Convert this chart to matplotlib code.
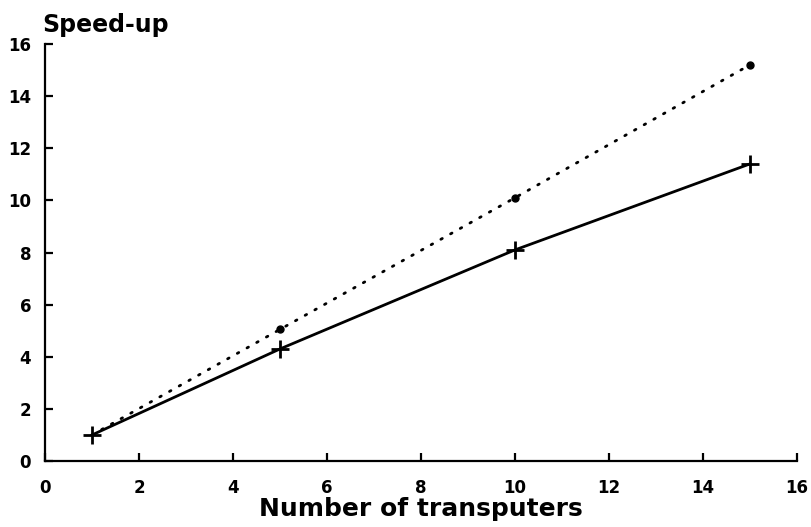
import matplotlib
matplotlib.use('Agg')
import matplotlib.pyplot as plt

plt.rcParams['font.family'] = ['DejaVu Sans']
plt.rcParams['font.weight'] = 'bold'

# data
transputers = [1, 5, 10, 15]
speedup_measured = [1.0, 4.3, 8.1, 11.4]
speedup_ideal = [1.0, 5.05, 10.1, 15.2]
ticks = [0, 2, 4, 6, 8, 10, 12, 14, 16]

fig = plt.figure(figsize=(8.12, 5.27), dpi=100)
ax = fig.add_axes([0.0554, 0.1252, 0.9261, 0.7913])

# ideal speed-up, dotted
ax.plot(transputers, speedup_ideal, linestyle=(0, (0.6, 3.4)), color='black',
        linewidth=2.0, dash_capstyle='round')
ax.plot(transputers[1:], speedup_ideal[1:], 'o', color='black', markersize=5)

# measured speed-up
ax.plot(transputers, speedup_measured, '-', color='black', linewidth=2.0,
        marker='+', markersize=13, markeredgewidth=2.0)

ax.set_xlim(0, 16)
ax.set_ylim(0, 16)
ax.set_xticks(ticks)
ax.set_yticks(ticks)
ax.spines['top'].set_visible(False)
ax.spines['right'].set_visible(False)
ax.spines['left'].set_linewidth(1.6)
ax.spines['bottom'].set_linewidth(1.6)
ax.tick_params(direction='in', length=6, width=1.6, labelsize=12)
ax.tick_params(axis='x', pad=13)
ax.tick_params(axis='y', pad=10)
for lab in ax.get_xticklabels() + ax.get_yticklabels():
    lab.set_fontweight('bold')

ax.set_xlabel('Number of transputers', fontsize=18, fontweight='bold', labelpad=0)
fig.text(0.052, 0.93, 'Speed-up', fontsize=17, fontweight='bold', ha='left', va='bottom')

fig.savefig('out.png', dpi=100)
plt.close(fig)
